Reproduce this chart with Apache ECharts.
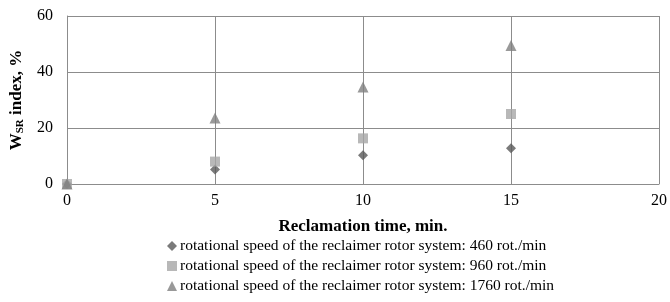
<!DOCTYPE html>
<html>
<head>
<meta charset="utf-8">
<script src="https://cdn.jsdelivr.net/npm/echarts@6/dist/echarts.min.js"></script>
<style>
  html, body { margin: 0; padding: 0; background: #fff; }
  #chart { width: 670px; height: 302px; }
</style>
</head>
<body>
<div id="chart"></div>
<script>
// reclamation time, min.
var times = [0, 5, 10, 15];
// W_SR index, % for each rotor speed
var speed460 = [0, 5.2, 10.3, 12.8];
var speed960 = [0, 8, 16.3, 25];
var speed1760 = [0, 23.6, 34.6, 49.5];
var seriesNames = [
    'rotational speed of the reclaimer rotor system: 460 rot./min',
    'rotational speed of the reclaimer rotor system: 960 rot./min',
    'rotational speed of the reclaimer rotor system: 1760 rot./min'
];

function pairs(vals) {
    return times.map(function (t, i) { return [t, vals[i]]; });
}

var font = '"Liberation Serif", "Times New Roman", serif';
var lineCol = '#8c8c8c';

var myChart = echarts.init(document.getElementById('chart'));

var option = {
    animation: false,
    textStyle: { fontFamily: font },
    grid: { left: 67, right: 9, top: 16, bottom: 118 },
    legend: {
        orient: 'vertical',
        left: 162,
        top: 233,
        itemWidth: 10,
        itemHeight: 10,
        itemGap: 4,
        textStyle: { fontFamily: font, fontSize: 15.5, color: '#000', padding: [0, 0, 0, -2] },
        data: [
            { name: seriesNames[0], icon: 'diamond' },
            { name: seriesNames[1], icon: 'rect' },
            { name: seriesNames[2], icon: 'triangle' }
        ]
    },
    xAxis: {
        type: 'value',
        min: 0,
        max: 20,
        interval: 5,
        name: 'Reclamation time, min.',
        nameLocation: 'middle',
        nameGap: 34,
        nameTextStyle: { fontFamily: font, fontSize: 17, fontWeight: 'bold', color: '#000' },
        axisLine: { show: true, onZero: false, lineStyle: { color: lineCol } },
        axisTick: { show: false },
        axisLabel: { fontFamily: font, fontSize: 16, color: '#000', margin: 9 },
        splitLine: { show: true, lineStyle: { color: lineCol, width: 1 } }
    },
    yAxis: {
        type: 'value',
        min: 0,
        max: 60,
        interval: 20,
        name: 'W{sub|SR} index, %',
        nameLocation: 'middle',
        nameGap: 41,
        nameTextStyle: {
            fontFamily: font, fontSize: 17, fontWeight: 'bold', color: '#000',
            rich: {
                sub: { fontFamily: font, fontSize: 11, fontWeight: 'bold', color: '#000', verticalAlign: 'bottom', padding: [7, 0, 0, 0] }
            }
        },
        axisLine: { show: true, lineStyle: { color: lineCol } },
        axisTick: { show: false },
        axisLabel: { fontFamily: font, fontSize: 16, color: '#000', margin: 14 },
        splitLine: { show: true, lineStyle: { color: lineCol, width: 1 } }
    },
    series: [
        {
            name: seriesNames[0],
            type: 'scatter',
            symbol: 'diamond',
            symbolSize: 10,
            itemStyle: { color: '#595959' },
            data: pairs(speed460)
        },
        {
            name: seriesNames[1],
            type: 'scatter',
            symbol: 'rect',
            symbolSize: 10,
            itemStyle: { color: '#a6a6a6' },
            data: pairs(speed960)
        },
        {
            name: seriesNames[2],
            type: 'scatter',
            symbol: 'triangle',
            symbolSize: 11,
            itemStyle: { color: '#7f7f7f' },
            data: pairs(speed1760)
        }
    ]
};

myChart.setOption(option);
</script>
</body>
</html>
